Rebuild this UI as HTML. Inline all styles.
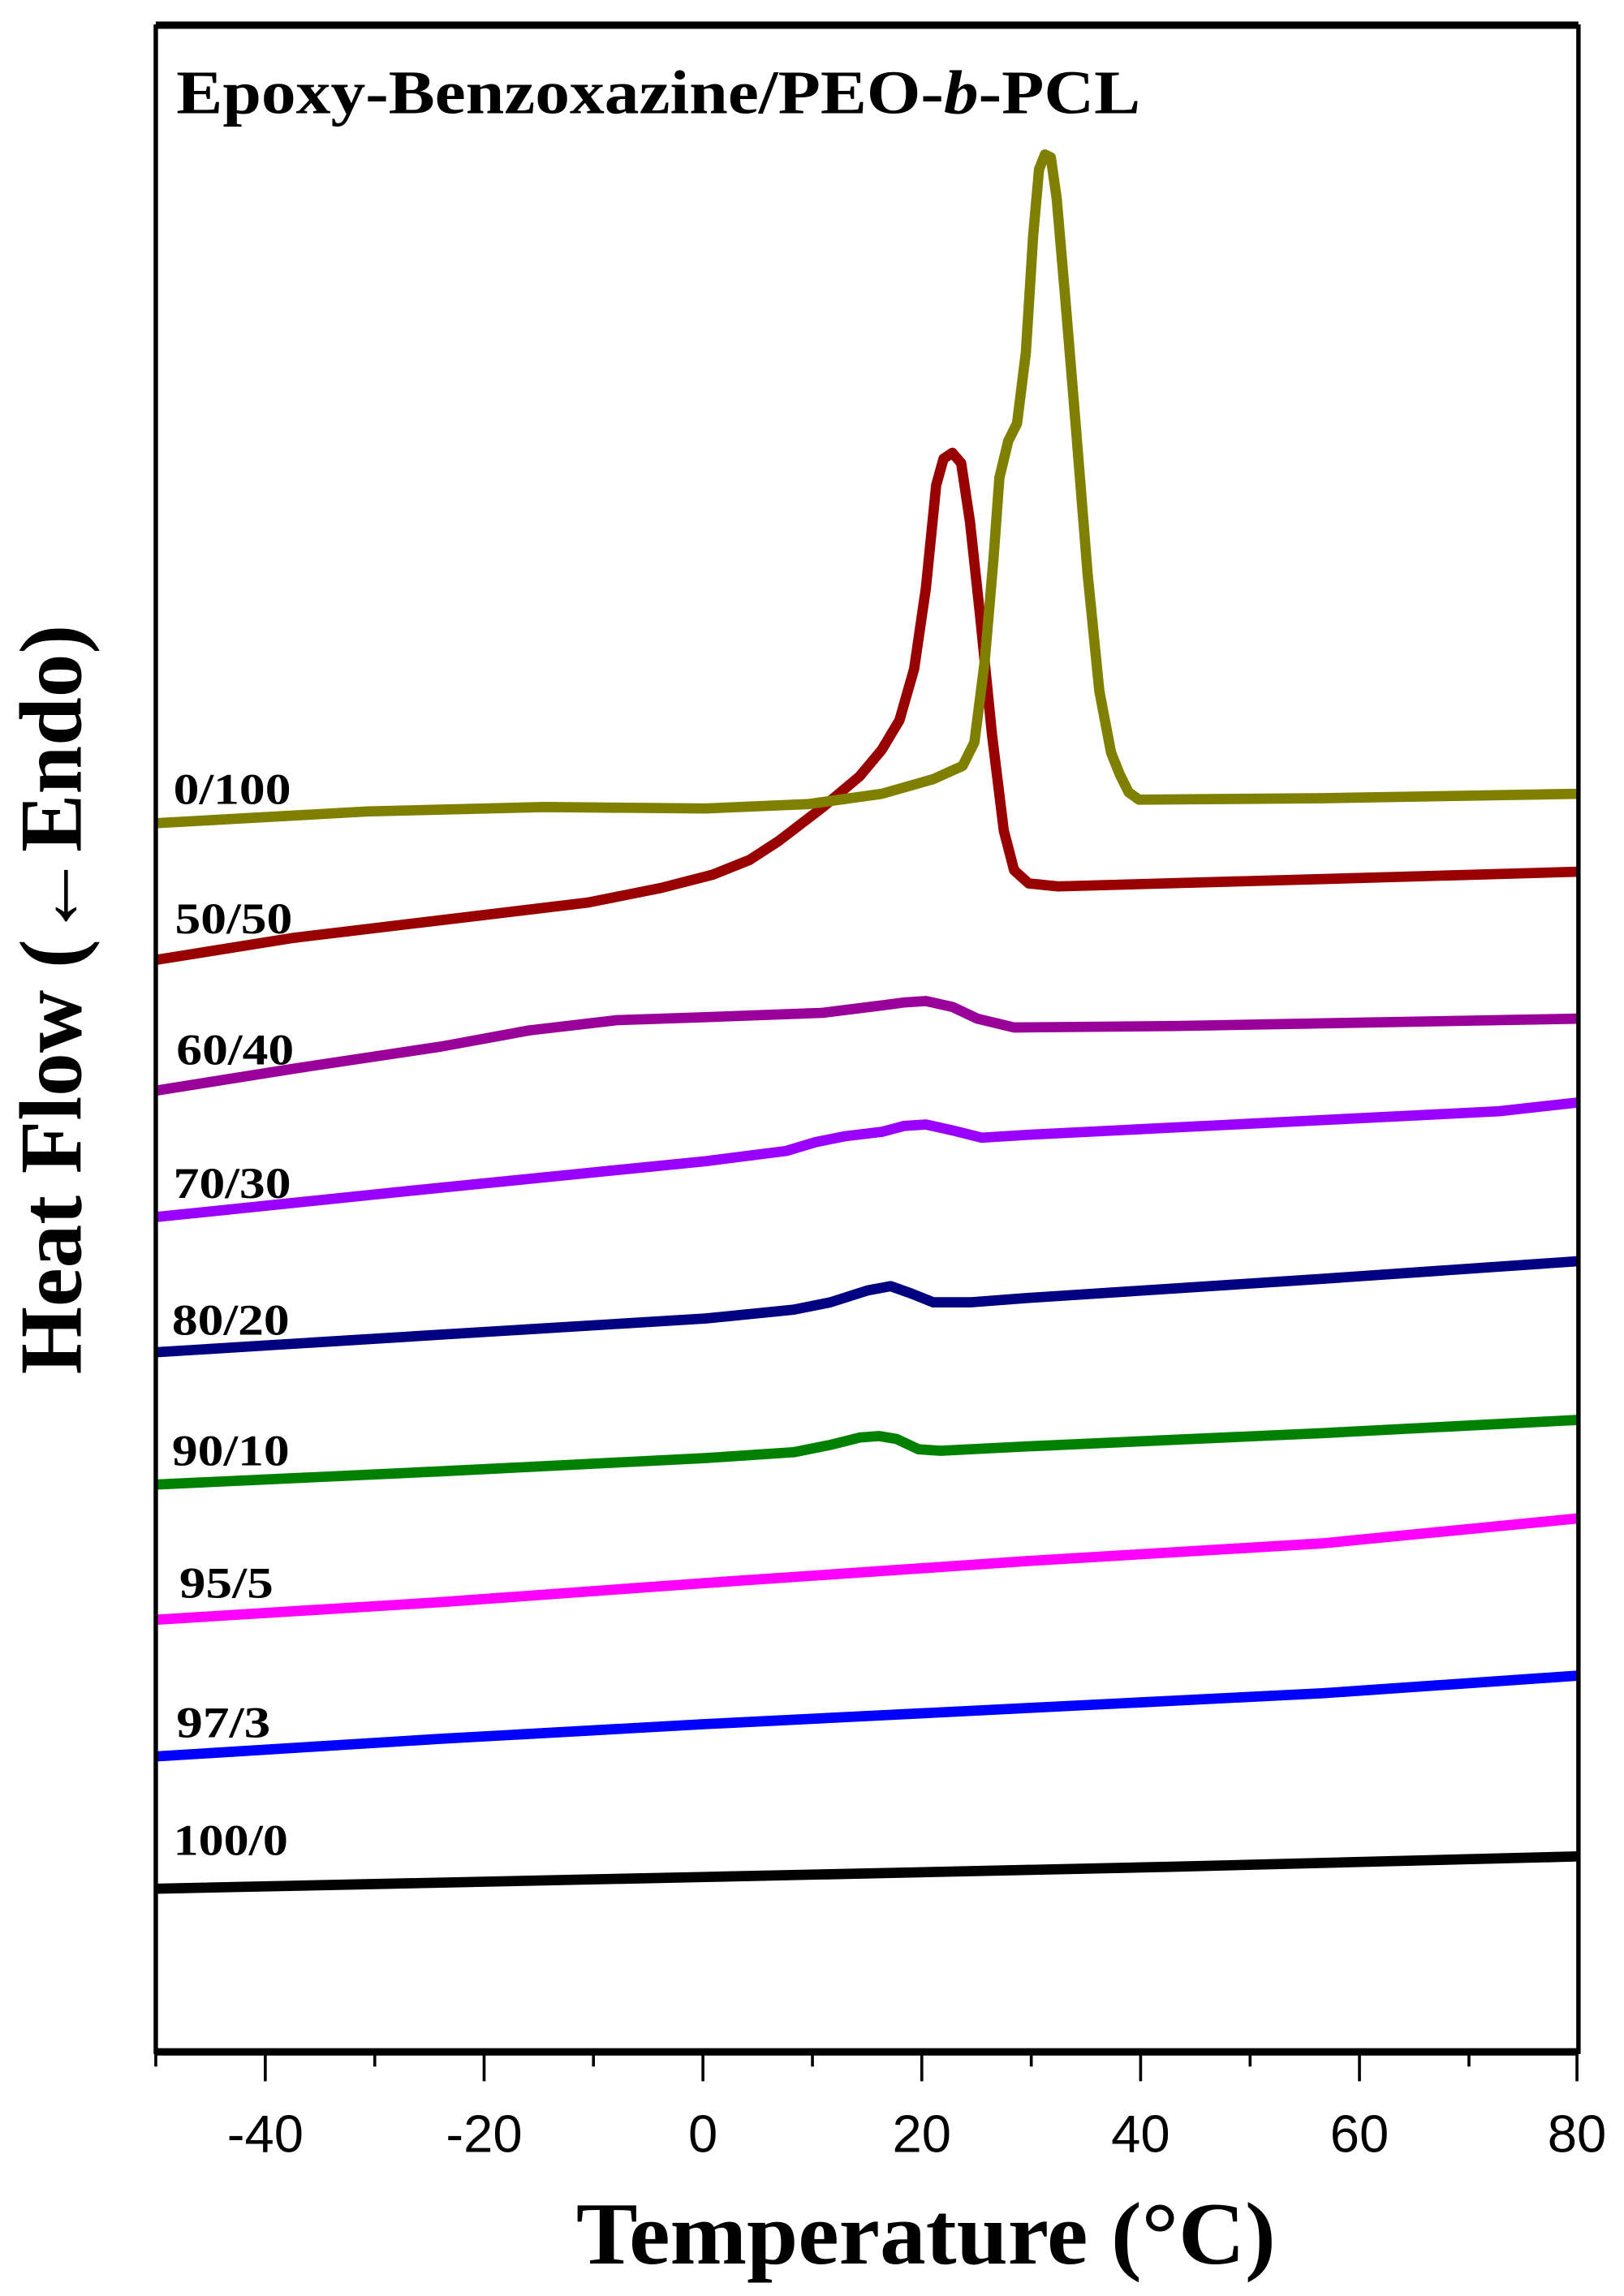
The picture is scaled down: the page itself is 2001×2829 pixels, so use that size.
<!DOCTYPE html>
<html><head><meta charset="utf-8"><style>html,body{margin:0;padding:0;background:#fff}svg{display:block}
.sf{font-family:"Liberation Serif","Times New Roman",serif;font-weight:bold}
.ss{font-family:"Liberation Sans",Arial,sans-serif}</style></head>
<body>
<svg width="2001" height="2829" viewBox="0 0 1105 1562" xmlns="http://www.w3.org/2000/svg">
<rect width="1105" height="1562" fill="#fff"/>
<g fill="none" stroke-width="7" stroke-linejoin="round" stroke-linecap="butt">
<path stroke="#000" d="M106,1285 L480,1277 L800,1270 L1074,1263"/>
<path stroke="#0000ff" d="M106,1195 L300,1183 L480,1173 L700,1162 L900,1152 L1074,1140"/>
<path stroke="#ff00ff" d="M106,1102 L300,1090 L480,1077 L700,1062 L900,1050 L1074,1033"/>
<path stroke="#008000" d="M106,1010 L300,1001 L480,992 L540,988 L565,983 L585,978 L598,977 L610,979 L625,986 L640,987 L700,984 L900,975 L1074,966"/>
<path stroke="#000080" d="M106,920 L300,908 L480,897 L540,891 L565,886 L590,878 L606,875 L620,880 L635,886 L660,886 L700,883 L900,870 L1074,858"/>
<path stroke="#9900ff" d="M106,828 L300,808 L480,790 L535,783 L555,777 L575,773 L600,770 L615,766 L630,765 L648,769 L668,774 L700,772 L900,762 L1020,756 L1074,750"/>
<path stroke="#990099" d="M106,742 L200,727 L300,712 L360,701 L420,694 L480,692 L560,689 L600,684 L615,682 L630,681 L648,685 L665,693 L690,699 L800,698 L1074,693"/>
<path stroke="#990000" d="M106,653 L200,638 L300,626 L400,614 L450,604 L485,595 L510,585 L530,572 L560,549 L585,528 L600,510 L612,490 L622,455 L630,400 L637,330 L642,312 L648,308 L654,315 L660,355 L667,420 L675,500 L683,565 L690,592 L700,601 L720,603 L900,598 L1074,593"/>
<path stroke="#808000" d="M106,560 L250,552 L370,549 L480,550 L550,547 L600,540 L635,530 L655,521 L663,505 L670,450 L676,380 L680,325 L686,300 L692,288 L698,240 L703,160 L707,115 L711,105 L715,107 L719,135 L725,205 L732,290 L740,390 L748,470 L756,512 L762,527 L768,539 L775,544 L900,543 L1074,540"/>
</g>
<g stroke="#000" fill="none">
<rect x="106" y="18" width="968" height="1378" stroke-width="3"/>
<line x1="106" y1="17" x2="1074" y2="17" stroke-width="5"/>
<line x1="106" y1="1396" x2="1074" y2="1396" stroke-width="5"/>
<g stroke-width="2">
<line x1="106" y1="1396" x2="106" y2="1406"/>
<line x1="180.5" y1="1396" x2="180.5" y2="1416"/>
<line x1="255" y1="1396" x2="255" y2="1406"/>
<line x1="329.4" y1="1396" x2="329.4" y2="1416"/>
<line x1="403.8" y1="1396" x2="403.8" y2="1406"/>
<line x1="478.3" y1="1396" x2="478.3" y2="1416"/>
<line x1="552.8" y1="1396" x2="552.8" y2="1406"/>
<line x1="627.2" y1="1396" x2="627.2" y2="1416"/>
<line x1="701.7" y1="1396" x2="701.7" y2="1406"/>
<line x1="776.1" y1="1396" x2="776.1" y2="1416"/>
<line x1="850.6" y1="1396" x2="850.6" y2="1406"/>
<line x1="925" y1="1396" x2="925" y2="1416"/>
<line x1="999.5" y1="1396" x2="999.5" y2="1406"/>
<line x1="1073" y1="1396" x2="1073" y2="1416"/>
</g></g>
<g class="ss" font-size="36" text-anchor="middle" fill="#000">
<text x="180.5" y="1464">-40</text><text x="329.4" y="1464">-20</text><text x="478.3" y="1464">0</text>
<text x="627.2" y="1464">20</text><text x="776.1" y="1464">40</text><text x="925" y="1464">60</text><text x="1073" y="1464">80</text>
</g>
<g class="sf" fill="#000">
<text x="392" y="1540" font-size="60" textLength="476" lengthAdjust="spacingAndGlyphs">Temperature (°C)</text>
<text x="120" y="77" font-size="42" textLength="656" lengthAdjust="spacingAndGlyphs">Epoxy-Benzoxazine/PEO-<tspan font-style="italic">b</tspan>-PCL</text>
<text transform="translate(55,935) rotate(-90)" font-size="60" textLength="510" lengthAdjust="spacingAndGlyphs">Heat Flow (←Endo)</text>
<g font-size="30">
<text x="118" y="547" textLength="80" lengthAdjust="spacingAndGlyphs">0/100</text>
<text x="119" y="635" textLength="80" lengthAdjust="spacingAndGlyphs">50/50</text>
<text x="120" y="724" textLength="80" lengthAdjust="spacingAndGlyphs">60/40</text>
<text x="118" y="815" textLength="80" lengthAdjust="spacingAndGlyphs">70/30</text>
<text x="117" y="908" textLength="80" lengthAdjust="spacingAndGlyphs">80/20</text>
<text x="117" y="997" textLength="80" lengthAdjust="spacingAndGlyphs">90/10</text>
<text x="122" y="1087" textLength="64" lengthAdjust="spacingAndGlyphs">95/5</text>
<text x="120" y="1182" textLength="64" lengthAdjust="spacingAndGlyphs">97/3</text>
<text x="118" y="1262" textLength="78" lengthAdjust="spacingAndGlyphs">100/0</text>
</g></g>
</svg>
</body></html>
